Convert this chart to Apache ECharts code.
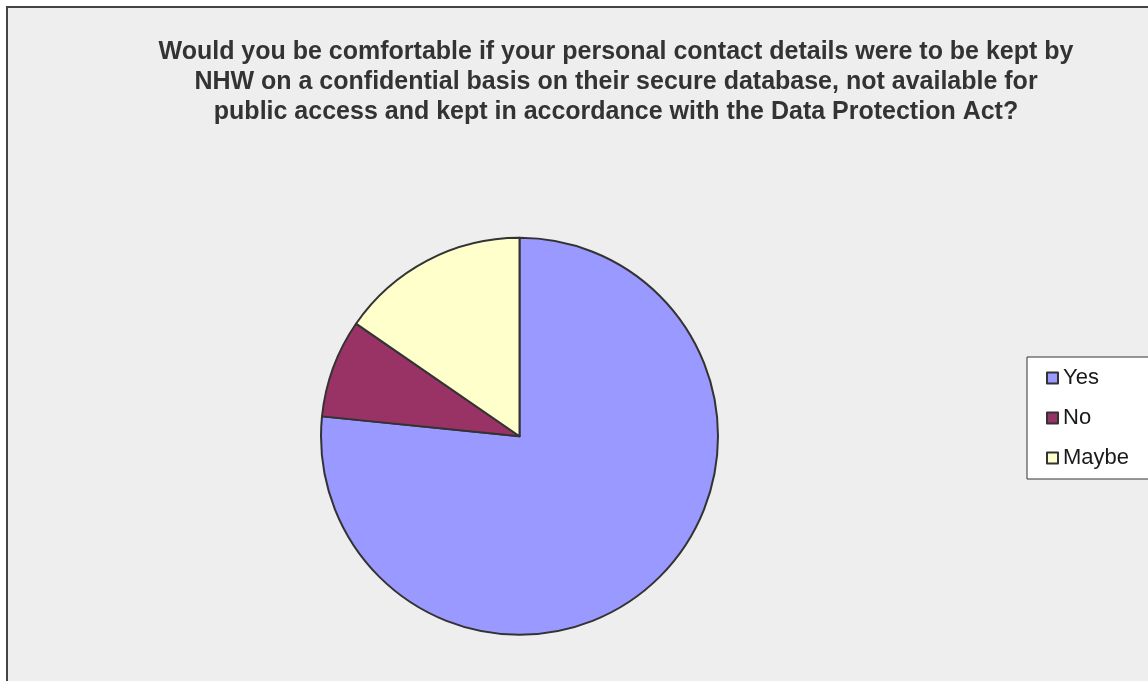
<!DOCTYPE html>
<html>
<head>
<meta charset="utf-8">
<script src="https://cdn.jsdelivr.net/npm/echarts@6/dist/echarts.min.js"></script>
<style>
  html, body { margin: 0; padding: 0; background: #ffffff; }
  #chart { width: 1148px; height: 681px; }
</style>
</head>
<body>
<div id="chart"></div>
<script>
// Survey answers (share of respondents, %)
const categories = ['Yes', 'No', 'Maybe'];
const shares = [76.6, 8.0, 15.4];
const sliceColors = ['#9999ff', '#993366', '#ffffcc'];

const titleLines = [
  'Would you be comfortable if your personal contact details were to be kept by',
  'NHW on a confidential basis on their secure database, not available for',
  'public access and kept in accordance with the Data Protection Act?'
];

const chart = echarts.init(document.getElementById('chart'), null, { renderer: 'canvas' });

chart.setOption({
  backgroundColor: '#ffffff',
  animation: false,
  graphic: [
    {
      // chart area panel, running past the right and bottom edges
      type: 'rect',
      z: -10,
      silent: true,
      shape: { x: 7, y: 7, width: 1200, height: 700 },
      style: { fill: '#eeeeee', stroke: '#444444', lineWidth: 2 }
    }
  ],
  title: {
    text: titleLines.join('\n'),
    left: 611,
    top: 32,
    textAlign: 'center',
    textStyle: {
      fontFamily: 'Liberation Sans, Arial, sans-serif',
      fontWeight: 'bold',
      fontSize: 25,
      lineHeight: 30,
      color: '#333333'
    }
  },
  legend: {
    orient: 'vertical',
    left: 1027,
    top: 357,
    data: categories,
    icon: 'rect',
    itemWidth: 11,
    itemHeight: 11,
    itemGap: 18,
    padding: [10, 22, 10, 19],
    backgroundColor: '#ffffff',
    borderColor: '#333333',
    borderWidth: 1,
    textStyle: {
      fontFamily: 'Liberation Sans, Arial, sans-serif',
      fontSize: 22,
      color: '#1a1a1a',
      lineHeight: 22
    }
  },
  series: [
    {
      type: 'pie',
      center: [519.5, 436.3],
      radius: 198.5,
      startAngle: 90,
      clockwise: true,
      label: { show: false },
      labelLine: { show: false },
      emphasis: { disabled: true },
      itemStyle: { borderColor: '#333333', borderWidth: 2 },
      data: categories.map((name, i) => ({
        name,
        value: shares[i],
        itemStyle: { color: sliceColors[i] }
      }))
    }
  ]
});
</script>
</body>
</html>
